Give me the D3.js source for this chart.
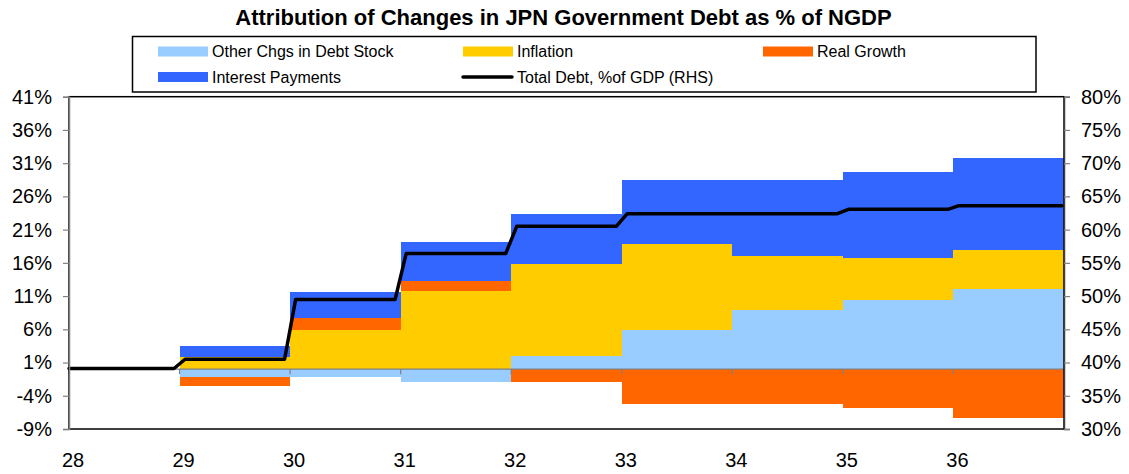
<!DOCTYPE html>
<html><head><meta charset="utf-8">
<script src="https://cdn.jsdelivr.net/npm/d3@7"></script>
<style>
body{margin:0;background:#fff;}
svg{display:block;font-family:Arial,"Liberation Sans",sans-serif;}
</style></head>
<body><svg id="c" width="1129" height="474"></svg>
<script>
// ---- data ----
const years = [29, 30, 31, 32, 33, 34, 35, 36];
const otherChgs  = [-1.2, -1.2, -1.9, 2.0, 5.9, 8.9, 10.4, 12.0];
const inflation  = [1.8, 5.9, 11.7, 13.8, 12.9, 8.1, 6.4, 6.0];
const realGrowth = [-1.3, 1.85, 1.5, -1.9, -5.2, -5.2, -5.8, -7.3];
const interest   = [1.65, 3.8, 5.9, 7.5, 9.6, 11.4, 12.9, 13.8];
const debtYears  = [28, 29, 30, 31, 32, 33, 34, 35, 36];
const totalDebt  = [39.1, 40.5, 49.5, 56.4, 60.5, 62.4, 62.4, 63.05, 63.6];
const xTicks = [28, 29, 30, 31, 32, 33, 34, 35, 36];
const leftTicks = [41, 36, 31, 26, 21, 16, 11, 6, 1, -4, -9];
const rightTicks = [80, 75, 70, 65, 60, 55, 50, 45, 40, 35, 30];
const seriesNames = ["Other Chgs in Debt Stock", "Inflation", "Real Growth", "Interest Payments"];
const lineName = "Total Debt, %of GDP (RHS)";
const title = "Attribution of Changes in JPN Government Debt as % of NGDP";
const colors = ["#99CCFF", "#FFCC00", "#FF6600", "#3366FF"];

const svg = d3.select("#c");
const L = 69, R = 1064, T = 96.7, B = 429;
const x = d3.scaleLinear().domain([28, 37]).range([L, R]);
const yL = d3.scaleLinear().domain([-9, 41]).range([B, T]);
const yR = d3.scaleLinear().domain([30, 80]).range([B, T]);

// title
svg.append("text").attr("x", 563.5).attr("y", 25).attr("text-anchor", "middle")
  .attr("font-weight", "bold").attr("font-size", 22).attr("fill", "#000").text(title);

// legend
const lg = svg.append("g");
lg.append("rect").attr("x", 132.5).attr("y", 36.5).attr("width", 903.5).attr("height", 55.5)
  .attr("fill", "#fff").attr("stroke", "#000").attr("stroke-width", 1.5);
const legItems = [
  {name: seriesNames[0], color: colors[0], sx: 158, row: 0},
  {name: seriesNames[1], color: colors[1], sx: 463, row: 0},
  {name: seriesNames[2], color: colors[2], sx: 763, row: 0},
  {name: seriesNames[3], color: colors[3], sx: 158, row: 1},
  {name: lineName, color: "#000", sx: 463, row: 1, line: true}
];
legItems.forEach(d => {
  const cy = d.row === 0 ? 51.5 : 77;
  if (d.line) {
    lg.append("line").attr("x1", d.sx).attr("x2", d.sx + 49).attr("y1", cy).attr("y2", cy)
      .attr("stroke", "#000").attr("stroke-width", 3.5).attr("stroke-linecap", "round");
  } else {
    lg.append("rect").attr("x", d.sx).attr("y", cy - 5).attr("width", 50).attr("height", 10).attr("fill", d.color);
  }
  lg.append("text").attr("x", d.sx + 54).attr("y", cy + 5.5).attr("font-size", 16).attr("fill", "#000").text(d.name);
});

// stacked bars (diverging)
const rows = years.map((yr, i) => ({year: yr, s0: otherChgs[i], s1: inflation[i], s2: realGrowth[i], s3: interest[i]}));
const stack = d3.stack().keys(["s0", "s1", "s2", "s3"]).offset(d3.stackOffsetDiverging);
const stacked = stack(rows);
stacked.forEach((ser, k) => {
  svg.append("g").selectAll("rect").data(ser).join("rect")
    .attr("x", d => x(d.data.year))
    .attr("width", d => x(d.data.year + 1) - x(d.data.year))
    .attr("y", d => yL(Math.max(d[0], d[1])))
    .attr("height", d => Math.abs(yL(d[0]) - yL(d[1])))
    .attr("fill", colors[k]).attr("shape-rendering", "crispEdges");
});

// zero axis (category axis)
const y0 = yL(0);
svg.append("line").attr("x1", L).attr("x2", R).attr("y1", y0).attr("y2", y0)
  .attr("stroke", "#808080").attr("stroke-width", 1.2);
svg.append("g").selectAll("line").data(xTicks.concat([37])).join("line")
  .attr("x1", d => x(d)).attr("x2", d => x(d)).attr("y1", y0).attr("y2", y0 + 5)
  .attr("stroke", "#808080").attr("stroke-width", 1.2);

// total debt line (steps with short transition)
const dx = 0.05;
const pts = [[debtYears[0], totalDebt[0]]];
for (let i = 1; i < debtYears.length; i++) {
  pts.push([debtYears[i] - dx, totalDebt[i - 1]]);
  pts.push([debtYears[i] + dx, totalDebt[i]]);
}
pts.push([37 - 0.02, totalDebt[totalDebt.length - 1]]);
svg.append("path").datum(pts)
  .attr("d", d3.line().x(d => x(d[0])).y(d => yR(d[1])))
  .attr("fill", "none").attr("stroke", "#000").attr("stroke-width", 3.5)
  .attr("stroke-linecap", "round").attr("stroke-linejoin", "round");

// plot border
svg.append("rect").attr("x", L).attr("y", T).attr("width", R - L).attr("height", B - T)
  .attr("fill", "none").attr("stroke", "#000").attr("stroke-width", 1.5);

// left axis
const gl = svg.append("g").attr("transform", `translate(${L},0)`)
  .call(d3.axisLeft(yL).tickValues(leftTicks).tickSize(6).tickPadding(11).tickFormat(d => d + "%"));
gl.select(".domain").attr("stroke", "#808080").attr("stroke-width", 1.5);
gl.selectAll(".tick line").attr("stroke", "#808080").attr("stroke-width", 1.2);
gl.selectAll("text").attr("font-size", 20).attr("font-family", "Arial,'Liberation Sans',sans-serif").attr("fill", "#000");

// right axis
const gr = svg.append("g").attr("transform", `translate(${R},0)`)
  .call(d3.axisRight(yR).tickValues(rightTicks).tickSize(6).tickPadding(11).tickFormat(d => d + "%"));
gr.select(".domain").attr("stroke", "#404040").attr("stroke-width", 1.5);
gr.selectAll(".tick line").attr("stroke", "#808080").attr("stroke-width", 1.2);
gr.selectAll("text").attr("font-size", 20).attr("font-family", "Arial,'Liberation Sans',sans-serif").attr("fill", "#000");

// x labels
svg.append("g").selectAll("text").data(xTicks).join("text")
  .attr("x", d => x(d) + 4).attr("y", 467).attr("text-anchor", "middle")
  .attr("font-size", 20).attr("fill", "#000").text(d => d);
</script></body></html>
